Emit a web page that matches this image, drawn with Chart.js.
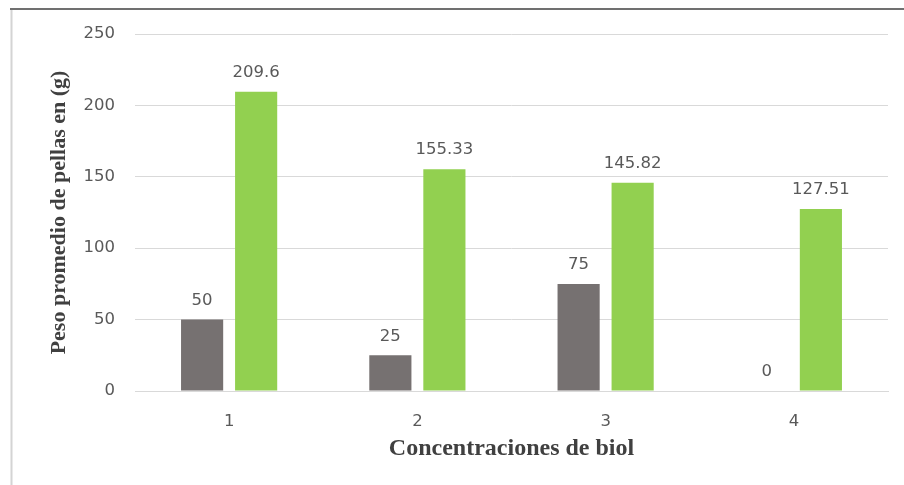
<!DOCTYPE html>
<html>
<head>
<meta charset="utf-8">
<script src="https://cdn.jsdelivr.net/npm/chart.js@4"></script>
<style>
  html, body { margin: 0; padding: 0; background: #ffffff; }
  #wrap { width: 904px; height: 485px; position: relative; }
</style>
</head>
<body>
<div id="wrap"><canvas id="chart" width="904" height="485"></canvas></div>
<script>
// Concentraciones de biol (categorías del eje X)
const categories = ['1', '2', '3', '4'];
// Peso promedio de pellas (g) por serie
const seriesGray = [50, 25, 75, 0];
const seriesGreen = [209.6, 155.33, 145.82, 127.51];
// Marcas del eje Y
const yTicks = [0, 50, 100, 150, 200, 250];

const tickFont = { family: "'DejaVu Sans', 'Open Sans', sans-serif", size: 16.5 };
const serif = "'Liberation Serif', 'DejaVu Serif', serif";

// Marco del gráfico: línea superior y borde izquierdo
const framePlugin = {
  id: 'frame',
  beforeDraw(chart) {
    const ctx = chart.ctx;
    ctx.save();
    ctx.fillStyle = '#ffffff';
    ctx.fillRect(0, 0, chart.width, chart.height);
    ctx.strokeStyle = '#d4d4d4';
    ctx.lineWidth = 2;
    ctx.beginPath();
    ctx.moveTo(11.5, 9);
    ctx.lineTo(11.5, chart.height);
    ctx.stroke();
    ctx.strokeStyle = '#707070';
    ctx.lineWidth = 2;
    ctx.beginPath();
    ctx.moveTo(10, 9);
    ctx.lineTo(chart.width, 9);
    ctx.stroke();
    ctx.restore();
  }
};

// Etiquetas de valor encima de cada barra
const valueLabels = {
  id: 'valueLabels',
  afterDatasetsDraw(chart) {
    const ctx = chart.ctx;
    ctx.save();
    ctx.fillStyle = '#595959';
    ctx.font = `${tickFont.size}px ${tickFont.family}`;
    ctx.textAlign = 'center';
    ctx.textBaseline = 'middle';
    chart.data.datasets.forEach((ds, di) => {
      const meta = chart.getDatasetMeta(di);
      meta.data.forEach((bar, i) => {
        ctx.fillText(String(ds.data[i]), bar.x, bar.y - 19);
      });
    });
    ctx.restore();
  }
};

new Chart(document.getElementById('chart'), {
  type: 'bar',
  data: {
    labels: categories,
    datasets: [
      { label: 'Serie 1', data: seriesGray, backgroundColor: '#767171' },
      { label: 'Serie 2', data: seriesGreen, backgroundColor: '#92d050' }
    ]
  },
  options: {
    responsive: false,
    animation: false,
    categoryPercentage: 0.574,
    barPercentage: 0.78,
    layout: { padding: { top: 34, right: 16, left: 0, bottom: 0 } },
    plugins: {
      legend: { display: false },
      tooltip: { enabled: false }
    },
    scales: {
      x: {
        grid: { display: false, drawTicks: false },
        border: { display: true, color: '#d9d9d9', width: 1 },
        ticks: { color: '#595959', font: tickFont, padding: 21 },
        title: {
          display: true,
          text: 'Concentraciones de biol',
          color: '#404040',
          font: { family: serif, size: 24, weight: 'bold' },
          padding: { top: 0, bottom: 22 }
        },
        afterFit(scale) { scale.height = 94; }
      },
      y: {
        min: 0,
        max: 250,
        afterBuildTicks(scale) { scale.ticks = yTicks.map(v => ({ value: v })); },
        grid: { color: '#d9d9d9', lineWidth: 1, drawTicks: false },
        border: { display: false },
        ticks: { color: '#595959', font: tickFont, padding: 20 },
        title: {
          display: true,
          text: 'Peso promedio de pellas en (g)',
          color: '#404040',
          font: { family: serif, size: 22, weight: 'bold' },
          padding: { top: 46, bottom: 0 }
        },
        afterFit(scale) { scale.width = 135; }
      }
    }
  },
  plugins: [framePlugin, valueLabels]
});
</script>
</body>
</html>
